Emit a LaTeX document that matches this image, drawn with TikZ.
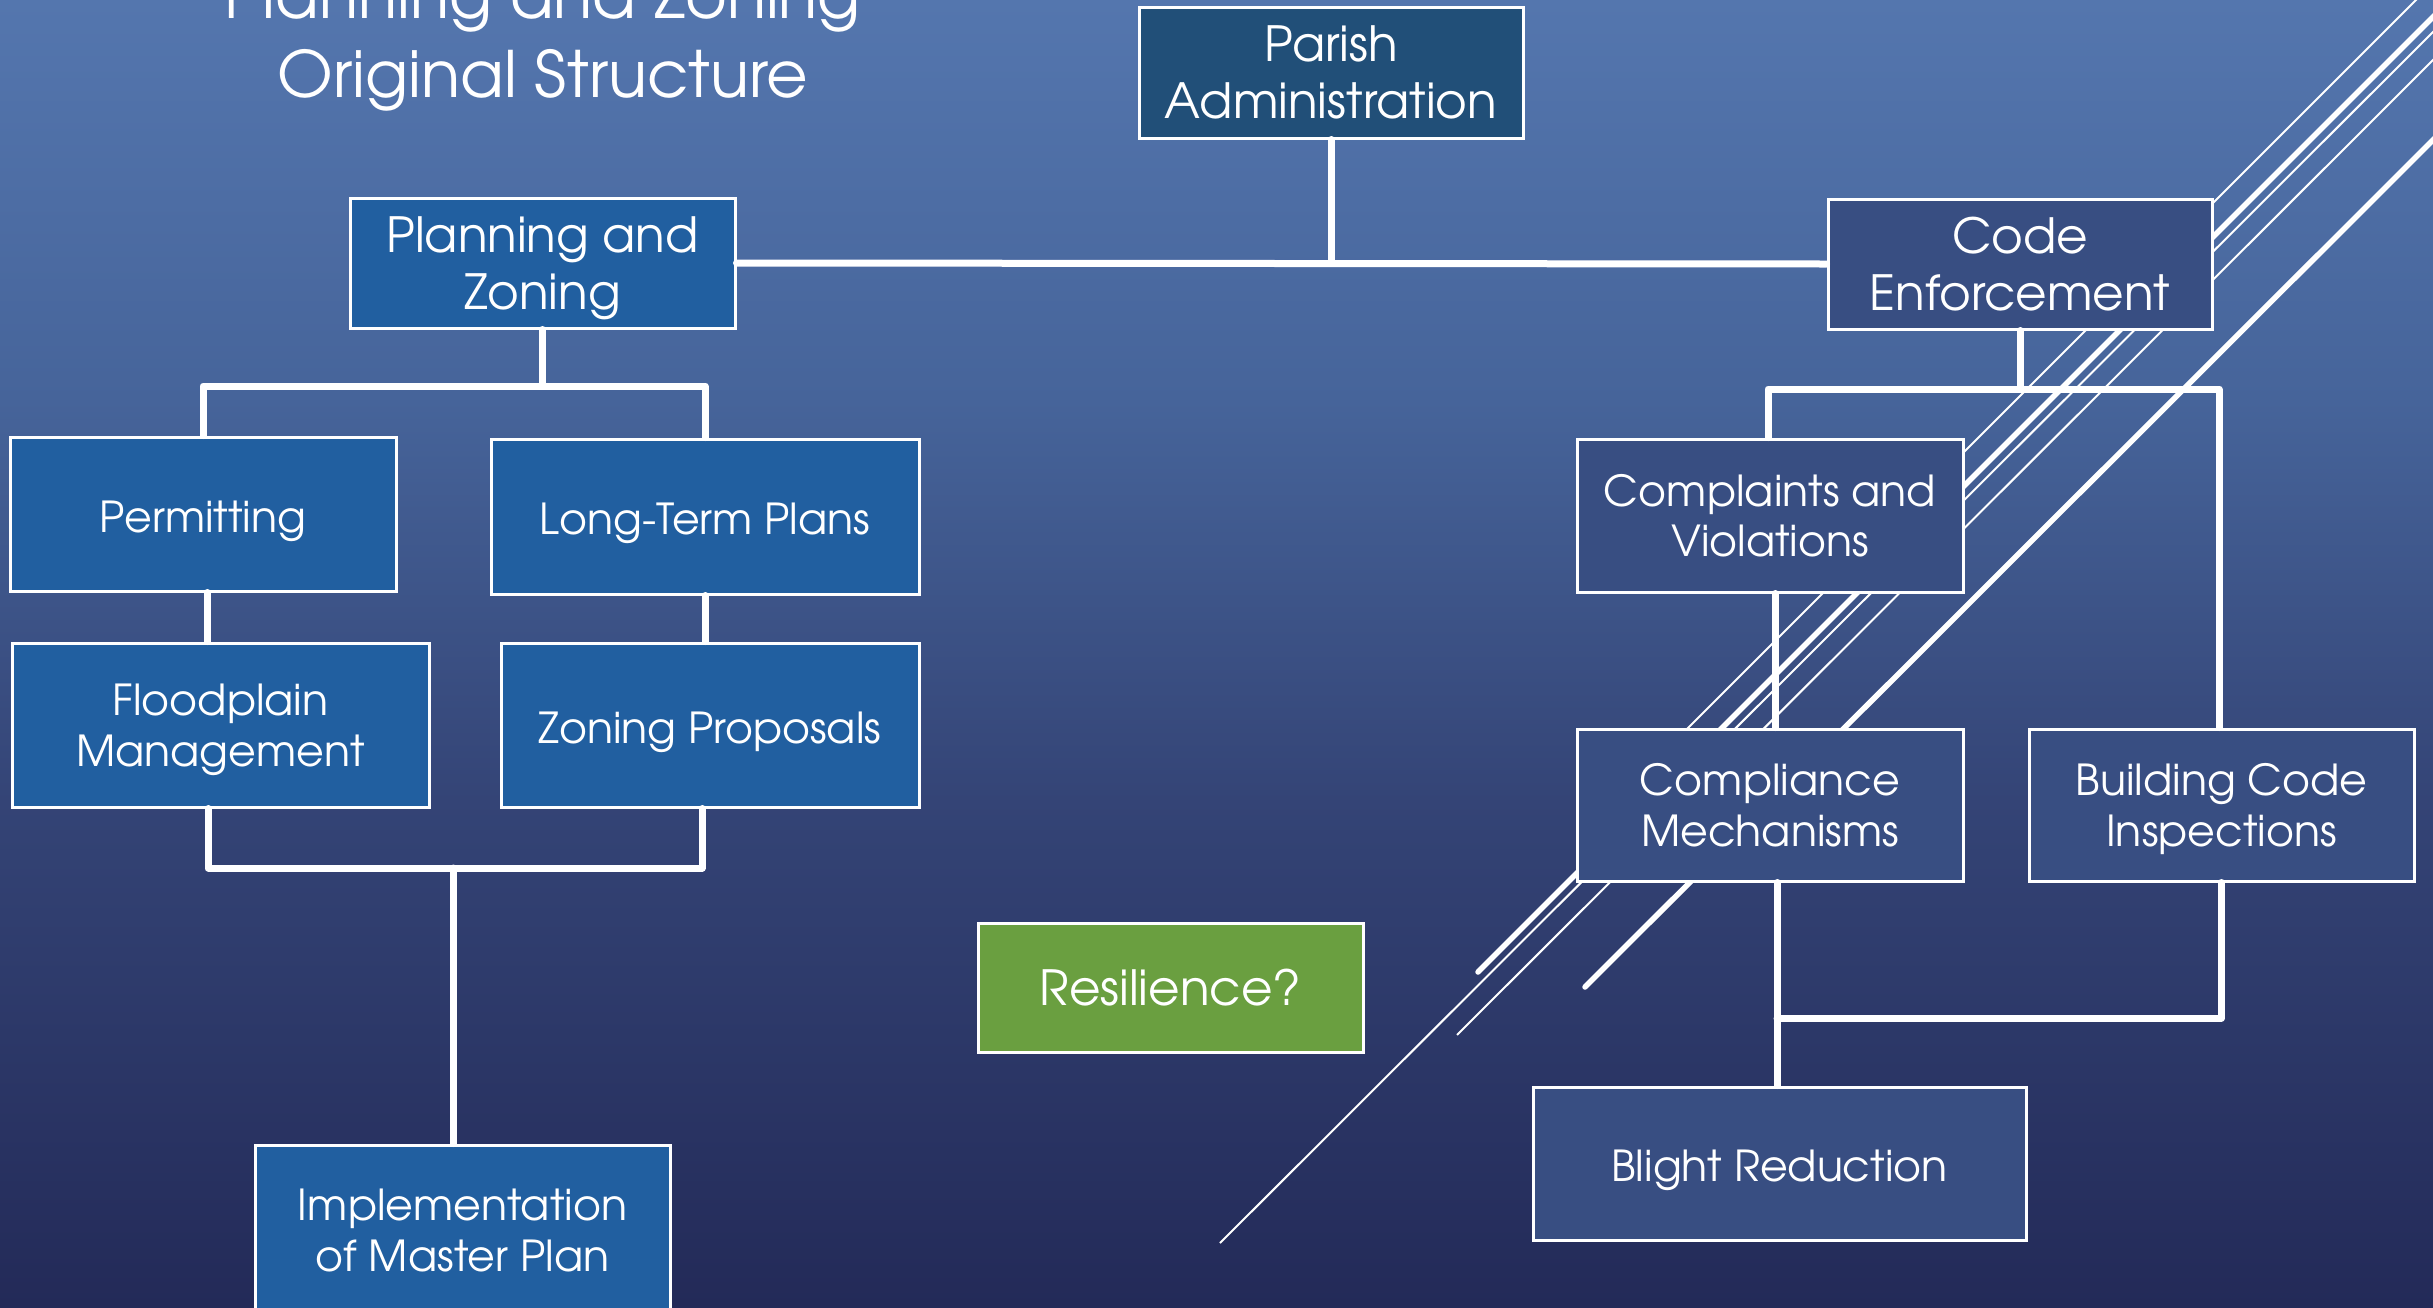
\documentclass[tikz,border=0pt]{standalone}
\usepackage{fontspec}
\setmainfont{texgyreadventor-regular.otf}
\definecolor{bgA}{RGB}{84,118,174}
\definecolor{bgB}{RGB}{70,100,154}
\definecolor{bgC}{RGB}{52,68,118}
\definecolor{bgD}{RGB}{35,42,88}
\definecolor{parishfill}{RGB}{33,79,120}
\definecolor{planfill}{RGB}{33,95,160}
\definecolor{codefill}{RGB}{56,78,130}
\definecolor{resilfill}{RGB}{106,159,64}
\pgfdeclarelayer{bglayer}
\pgfdeclarelayer{diag}
\pgfdeclarelayer{toplayer}
\pgfsetlayers{bglayer,diag,main,toplayer}
\begin{document}
\begin{tikzpicture}[x=1pt,y=-1pt,
  box/.style={draw=white, line width=3pt, text=white, align=center, inner sep=0pt, text depth=0pt},
  oneline/.style={text height=36pt},
  bigtext/.style={font=\fontsize{48.5}{57}\selectfont},
  smalltext/.style={font=\fontsize{42.7}{50.5}\selectfont},
  titletext/.style={text=white, inner sep=0pt, anchor=base, font=\fontsize{64}{79}\selectfont},
  conn/.style={draw=white, line width=7pt, line cap=round, line join=round},
  thinl/.style={draw=white, line width=2pt},
  thickl/.style={draw=white, line width=5.5pt, line cap=round}]
\useasboundingbox (0,0) rectangle (2433,1307);
\begin{pgfonlayer}{bglayer}
\shade[top color=bgA, bottom color=bgB] (0,0) rectangle (2433,401);
\shade[top color=bgB, bottom color=bgC] (0,400) rectangle (2433,801);
\shade[top color=bgC, bottom color=bgD] (0,800) rectangle (2433,1307);
\end{pgfonlayer}
% title
\node[titletext] (t1) at (543,18) {Planning and Zoning};
\node[titletext] (t2) at (543,97) {Original Structure};
% boxes
\node[box, bigtext, fill=parishfill, minimum width=384pt, minimum height=131pt] (parish) at (1331,72.5) {Parish\\Administration};
\node[box, bigtext, fill=planfill, minimum width=385pt, minimum height=130pt] (plan) at (542.5,263) {Planning and\\Zoning};
\node[box, bigtext, fill=codefill, minimum width=384pt, minimum height=130pt] (code) at (2020,264) {Code\\Enforcement};
\node[box, smalltext, oneline, fill=planfill, minimum width=386pt, minimum height=154pt] (permit) at (203,514) {Permitting};
\node[box, smalltext, oneline, fill=planfill, minimum width=428pt, minimum height=155pt] (ltp) at (705,516.5) {Long-Term Plans};
\node[box, smalltext, fill=planfill, minimum width=417pt, minimum height=164pt] (flood) at (220.5,725) {Floodplain\\Management};
\node[box, smalltext, oneline, fill=planfill, minimum width=418pt, minimum height=164pt] (zprop) at (710,725) {Zoning Proposals};
\node[box, smalltext, fill=planfill, minimum width=415pt, minimum height=170pt] (impl) at (462.5,1230) {Implementation\\of Master Plan};
\node[box, smalltext, fill=codefill, minimum width=386pt, minimum height=153pt] (comp) at (1770,515.5) {Complaints and\\Violations};
\node[box, smalltext, fill=codefill, minimum width=386pt, minimum height=152pt] (compl) at (1770,805) {Compliance\\Mechanisms};
\node[box, smalltext, fill=codefill, minimum width=385pt, minimum height=152pt] (bci) at (2221.5,805) {Building Code\\Inspections};
\node[box, smalltext, oneline, fill=codefill, minimum width=493pt, minimum height=153pt] (blight) at (1779.5,1163.5) {Blight Reduction};
\node[box, bigtext, fill=resilfill, minimum width=385pt, minimum height=129pt] (resil) at (1170.5,987.5) {Resilience?};
% decorative diagonal lines
\begin{pgfonlayer}{diag}
\coordinate (a1) at (2426,-10); \coordinate (a2) at (1600,816);
\coordinate (b1) at (2443,7);   \coordinate (b2) at (1478,972);
\coordinate (c1) at (2445,20);  \coordinate (c2) at (1220,1243);
\coordinate (d1) at (2445,48);  \coordinate (d2) at (1457,1035);
\coordinate (e1) at (2445,128); \coordinate (e2) at (1585,987);
\draw[thinl] (a1) -- (a2);
\draw[thickl] (b1) -- (b2);
\draw[thinl] (c1) -- (c2);
\draw[thinl] (d1) -- (d2);
\draw[thickl] (e1) -- (e2);
\end{pgfonlayer}
% connectors
\begin{pgfonlayer}{toplayer}
\draw[conn] (parish.south) -- (parish.south |- plan.east);
\draw[conn] (plan.east) -- (code.west);
\coordinate (pbar) at (0,386);
\draw[conn] (plan.south) -- (plan.south |- pbar);
\draw[conn] (permit.north) -- (permit.north |- pbar) -- (ltp.north |- pbar) -- (ltp.north);
\draw[conn] ([xshift=4pt]permit.south) -- ([xshift=4pt]permit.south |- flood.north);
\draw[conn] (ltp.south) -- (ltp.south |- zprop.north);
\coordinate (fl) at (208,868);
\coordinate (fr) at (702,868);
\coordinate (fm) at (453,868);
\draw[conn] (flood.south -| fl) -- (fl) -- (fr) -- (zprop.south -| fr);
\draw[conn] (fm) -- (fm |- impl.north);
\coordinate (cl) at (1768,389);
\coordinate (cr) at (2219,389);
\draw[conn] (code.south) -- (code.south |- cl);
\draw[conn] (comp.north -| cl) -- (cl) -- (cr) -- (bci.north -| cr);
\draw[conn] ([xshift=5pt]comp.south) -- ([xshift=5pt]comp.south |- compl.north);
\coordinate (bj) at (1777,1018);
\draw[conn] (compl.south -| bj) -- (blight.north -| bj);
\draw[conn] (bci.south) -- (bci.south |- bj) -- (bj);
\end{pgfonlayer}
\end{tikzpicture}
\end{document}
